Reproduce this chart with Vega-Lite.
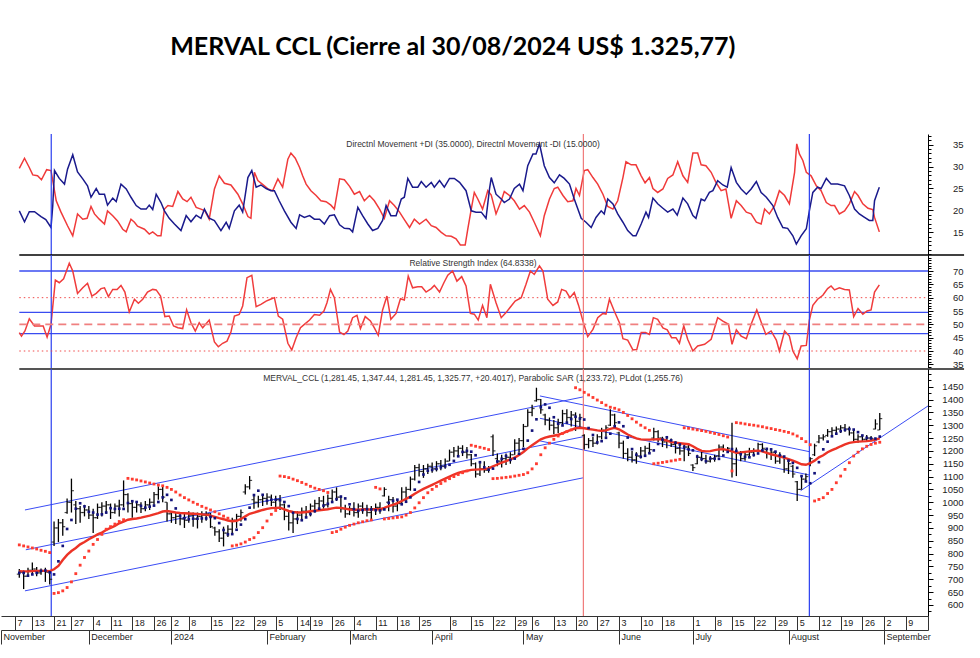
{
"$schema": "https://vega.github.io/schema/vega-lite/v6.json",
"background": "white",
"padding": {"left": 0, "top": 35, "right": 0, "bottom": 0},
"bounds": "flush",
"spacing": 0,
"title": {"text": "MERVAL CCL (Cierre al 30/08/2024 US$ 1.325,77)", "font": "Lato", "fontSize": 25, "fontWeight": "bold", "color": "#000", "anchor": "middle", "dx": -30, "offset": 73, "baseline": "top"},
"config": {"view": {"stroke": null}, "font": "Liberation Sans", "axis": {"grid": false, "domainColor": "#000", "tickColor": "#000", "labelColor": "#222", "labelFont": "Liberation Sans"}},
"datasets": {
"vlines": [{"t": 7.35, "k": "azul"}, {"t": 129.8, "k": "rojo"}, {"t": 181.8, "k": "azul"}],
"levels": [{"v": 70, "k": "b"}, {"v": 54.5, "k": "b"}, {"v": 46.5, "k": "b"}, {"v": 60, "k": "dot"}, {"v": 40, "k": "dot"}, {"v": 50, "k": "dash"}],
"lines": [
{"id": "u1", "t": 1.3, "p": 970}, {"id": "u1", "t": 129.7, "p": 1410},
{"id": "m1", "t": 1.5, "p": 815}, {"id": "m1", "t": 129.7, "p": 1255},
{"id": "l1", "t": 1.3, "p": 655}, {"id": "l1", "t": 129.7, "p": 1095},
{"id": "u2", "t": 119.8, "p": 1414}, {"id": "u2", "t": 181.8, "p": 1197},
{"id": "m2", "t": 119.8, "p": 1327}, {"id": "m2", "t": 181.8, "p": 1106},
{"id": "l2", "t": 119.8, "p": 1239}, {"id": "l2", "t": 181.8, "p": 1020},
{"id": "u3", "t": 179.8, "p": 1045}, {"id": "u3", "t": 209.1, "p": 1375}],
"bars": [
{"t":0,"o":720,"h":740,"l":706,"c":728,"ma":732,"sar":834,"pl":725},
{"t":1,"o":728,"h":735,"l":662,"c":712,"ma":731,"sar":830,"pl":725},
{"t":2,"o":712,"h":745,"l":710,"c":735,"ma":731,"sar":826,"pl":714},
{"t":3,"o":735,"h":765,"l":720,"c":740,"ma":732,"sar":822,"pl":719},
{"t":4,"o":740,"h":748,"l":712,"c":725,"ma":733,"sar":818,"pl":725},
{"t":5,"o":725,"h":742,"l":718,"c":732,"ma":733,"sar":813,"pl":733},
{"t":6,"o":732,"h":745,"l":690,"c":728,"ma":733,"sar":809,"pl":734},
{"t":7,"o":728,"h":735,"l":680,"c":700,"ma":732,"sar":804,"pl":727},
{"t":8,"o":845,"h":925,"l":830,"c":900,"ma":739,"sar":645,"pl":719},
{"t":9,"o":900,"h":935,"l":845,"c":920,"ma":752,"sar":648,"pl":770},
{"t":10,"o":920,"h":935,"l":870,"c":905,"ma":775,"sar":655,"pl":830},
{"t":11,"o":960,"h":1015,"l":955,"c":1000,"ma":795,"sar":668,"pl":896},
{"t":12,"o":1000,"h":1092,"l":960,"c":1045,"ma":810,"sar":690,"pl":931},
{"t":13,"o":990,"h":1005,"l":915,"c":975,"ma":822,"sar":722,"pl":975},
{"t":14,"o":975,"h":985,"l":920,"c":960,"ma":836,"sar":755,"pl":996},
{"t":15,"o":960,"h":990,"l":945,"c":970,"ma":845,"sar":785,"pl":984},
{"t":16,"o":970,"h":985,"l":935,"c":950,"ma":856,"sar":810,"pl":963},
{"t":17,"o":950,"h":975,"l":880,"c":940,"ma":865,"sar":836,"pl":960},
{"t":18,"o":940,"h":995,"l":935,"c":980,"ma":875,"sar":855,"pl":952},
{"t":19,"o":980,"h":1000,"l":945,"c":985,"ma":882,"sar":875,"pl":953},
{"t":20,"o":985,"h":1005,"l":955,"c":990,"ma":892,"sar":895,"pl":960},
{"t":21,"o":990,"h":995,"l":935,"c":960,"ma":900,"sar":905,"pl":977},
{"t":22,"o":960,"h":995,"l":955,"c":985,"ma":908,"sar":915,"pl":974},
{"t":23,"o":985,"h":1010,"l":945,"c":990,"ma":918,"sar":925,"pl":975},
{"t":24,"o":990,"h":1085,"l":980,"c":1030,"ma":925,"sar":932,"pl":974},
{"t":25,"o":1030,"h":1035,"l":960,"c":995,"ma":932,"sar":1093,"pl":997},
{"t":26,"o":995,"h":1005,"l":940,"c":980,"ma":935,"sar":1090,"pl":1004},
{"t":27,"o":980,"h":1005,"l":960,"c":990,"ma":937,"sar":1087,"pl":1001},
{"t":28,"o":990,"h":1000,"l":958,"c":975,"ma":940,"sar":1083,"pl":986},
{"t":29,"o":975,"h":1005,"l":965,"c":990,"ma":944,"sar":1079,"pl":979},
{"t":30,"o":990,"h":1015,"l":970,"c":1000,"ma":948,"sar":1075,"pl":983},
{"t":31,"o":1000,"h":1040,"l":990,"c":1030,"ma":953,"sar":1071,"pl":987},
{"t":32,"o":1030,"h":1062,"l":1010,"c":1050,"ma":958,"sar":1067,"pl":1001},
{"t":33,"o":1050,"h":1060,"l":1000,"c":1020,"ma":964,"sar":1064,"pl":1019},
{"t":34,"o":1000,"h":1000,"l":925,"c":955,"ma":966,"sar":1058,"pl":1029},
{"t":35,"o":955,"h":965,"l":920,"c":940,"ma":963,"sar":1050,"pl":1009},
{"t":36,"o":940,"h":960,"l":915,"c":945,"ma":960,"sar":1040,"pl":976},
{"t":37,"o":945,"h":955,"l":910,"c":935,"ma":958,"sar":1028,"pl":947},
{"t":38,"o":935,"h":960,"l":900,"c":930,"ma":957,"sar":1018,"pl":938},
{"t":39,"o":930,"h":965,"l":920,"c":950,"ma":956,"sar":1009,"pl":934},
{"t":40,"o":950,"h":960,"l":905,"c":935,"ma":955,"sar":1000,"pl":936},
{"t":41,"o":935,"h":960,"l":898,"c":945,"ma":954,"sar":992,"pl":936},
{"t":42,"o":945,"h":965,"l":920,"c":950,"ma":953,"sar":984,"pl":937},
{"t":43,"o":950,"h":965,"l":928,"c":955,"ma":952,"sar":977,"pl":937},
{"t":44,"o":955,"h":958,"l":900,"c":905,"ma":948,"sar":970,"pl":943},
{"t":45,"o":900,"h":905,"l":870,"c":885,"ma":943,"sar":963,"pl":938},
{"t":46,"o":885,"h":895,"l":845,"c":860,"ma":938,"sar":955,"pl":919},
{"t":47,"o":860,"h":905,"l":828,"c":880,"ma":934,"sar":946,"pl":892},
{"t":48,"o":880,"h":910,"l":865,"c":895,"ma":929,"sar":938,"pl":875},
{"t":49,"o":895,"h":940,"l":880,"c":930,"ma":926,"sar":830,"pl":876},
{"t":50,"o":930,"h":955,"l":900,"c":945,"ma":928,"sar":833,"pl":893},
{"t":51,"o":945,"h":972,"l":925,"c":960,"ma":935,"sar":838,"pl":913},
{"t":52,"o":1040,"h":1070,"l":1030,"c":1060,"ma":945,"sar":845,"pl":934},
{"t":53,"o":1060,"h":1102,"l":1050,"c":1085,"ma":955,"sar":855,"pl":979},
{"t":54,"o":1010,"h":1030,"l":975,"c":1000,"ma":960,"sar":862,"pl":1028},
{"t":55,"o":1000,"h":1025,"l":980,"c":1010,"ma":965,"sar":882,"pl":1045},
{"t":56,"o":1010,"h":1030,"l":985,"c":1015,"ma":970,"sar":901,"pl":1029},
{"t":57,"o":1015,"h":1035,"l":990,"c":1020,"ma":974,"sar":927,"pl":1006},
{"t":58,"o":1020,"h":1030,"l":985,"c":1000,"ma":977,"sar":953,"pl":1010},
{"t":59,"o":1000,"h":1025,"l":975,"c":1010,"ma":978,"sar":968,"pl":1010},
{"t":60,"o":1010,"h":1028,"l":970,"c":990,"ma":979,"sar":1102,"pl":1008},
{"t":61,"o":990,"h":995,"l":930,"c":945,"ma":972,"sar":1100,"pl":1001},
{"t":62,"o":945,"h":965,"l":890,"c":920,"ma":966,"sar":1096,"pl":985},
{"t":63,"o":920,"h":955,"l":880,"c":935,"ma":962,"sar":1090,"pl":959},
{"t":64,"o":935,"h":965,"l":915,"c":950,"ma":960,"sar":1084,"pl":935},
{"t":65,"o":950,"h":980,"l":930,"c":965,"ma":960,"sar":1077,"pl":930},
{"t":66,"o":965,"h":985,"l":940,"c":960,"ma":962,"sar":1070,"pl":941},
{"t":67,"o":960,"h":995,"l":945,"c":985,"ma":965,"sar":1062,"pl":954},
{"t":68,"o":985,"h":1010,"l":960,"c":995,"ma":967,"sar":1055,"pl":965},
{"t":69,"o":995,"h":1020,"l":970,"c":1005,"ma":969,"sar":1050,"pl":975},
{"t":70,"o":1005,"h":1025,"l":975,"c":990,"ma":971,"sar":1045,"pl":987},
{"t":71,"o":990,"h":1030,"l":980,"c":1015,"ma":973,"sar":1038,"pl":994},
{"t":72,"o":1015,"h":1050,"l":1000,"c":1040,"ma":976,"sar":882,"pl":1001},
{"t":73,"o":1040,"h":1058,"l":1005,"c":1020,"ma":979,"sar":886,"pl":1012},
{"t":74,"o":1020,"h":1025,"l":960,"c":975,"ma":978,"sar":895,"pl":1022},
{"t":75,"o":975,"h":990,"l":940,"c":955,"ma":975,"sar":903,"pl":1015},
{"t":76,"o":955,"h":985,"l":950,"c":975,"ma":972,"sar":910,"pl":992},
{"t":77,"o":975,"h":1000,"l":945,"c":960,"ma":971,"sar":915,"pl":973},
{"t":78,"o":960,"h":995,"l":940,"c":985,"ma":971,"sar":920,"pl":967},
{"t":79,"o":985,"h":1000,"l":955,"c":975,"ma":972,"sar":924,"pl":970},
{"t":80,"o":975,"h":990,"l":945,"c":960,"ma":972,"sar":928,"pl":973},
{"t":81,"o":960,"h":985,"l":935,"c":975,"ma":972,"sar":931,"pl":972},
{"t":82,"o":975,"h":995,"l":950,"c":980,"ma":973,"sar":1058,"pl":969},
{"t":83,"o":980,"h":1000,"l":955,"c":970,"ma":973,"sar":1052,"pl":968},
{"t":84,"o":1025,"h":1058,"l":1022,"c":1050,"ma":978,"sar":935,"pl":972},
{"t":85,"o":1000,"h":1025,"l":965,"c":1010,"ma":985,"sar":937,"pl":998},
{"t":86,"o":1010,"h":1020,"l":960,"c":985,"ma":990,"sar":939,"pl":1006},
{"t":87,"o":985,"h":1005,"l":965,"c":995,"ma":997,"sar":941,"pl":1010},
{"t":88,"o":995,"h":1058,"l":995,"c":1040,"ma":1005,"sar":943,"pl":992},
{"t":89,"o":1040,"h":1060,"l":1005,"c":1050,"ma":1013,"sar":950,"pl":1002},
{"t":90,"o":1050,"h":1100,"l":1045,"c":1090,"ma":1022,"sar":960,"pl":1019},
{"t":91,"o":1090,"h":1145,"l":1085,"c":1135,"ma":1033,"sar":978,"pl":1049},
{"t":92,"o":1135,"h":1150,"l":1100,"c":1120,"ma":1043,"sar":998,"pl":1079},
{"t":93,"o":1120,"h":1145,"l":1095,"c":1130,"ma":1052,"sar":1018,"pl":1108},
{"t":94,"o":1130,"h":1150,"l":1110,"c":1140,"ma":1060,"sar":1037,"pl":1123},
{"t":95,"o":1140,"h":1155,"l":1115,"c":1130,"ma":1068,"sar":1050,"pl":1126},
{"t":96,"o":1130,"h":1160,"l":1120,"c":1150,"ma":1076,"sar":1062,"pl":1130},
{"t":97,"o":1150,"h":1165,"l":1125,"c":1140,"ma":1084,"sar":1073,"pl":1136},
{"t":98,"o":1140,"h":1170,"l":1130,"c":1160,"ma":1092,"sar":1083,"pl":1140},
{"t":99,"o":1160,"h":1205,"l":1160,"c":1195,"ma":1100,"sar":1092,"pl":1146},
{"t":100,"o":1195,"h":1215,"l":1175,"c":1200,"ma":1108,"sar":1100,"pl":1161},
{"t":101,"o":1200,"h":1220,"l":1180,"c":1210,"ma":1114,"sar":1108,"pl":1179},
{"t":102,"o":1210,"h":1222,"l":1180,"c":1195,"ma":1119,"sar":1115,"pl":1196},
{"t":103,"o":1195,"h":1215,"l":1170,"c":1185,"ma":1122,"sar":1122,"pl":1200},
{"t":104,"o":1185,"h":1188,"l":1140,"c":1150,"ma":1126,"sar":1222,"pl":1197},
{"t":105,"o":1150,"h":1155,"l":1096,"c":1110,"ma":1127,"sar":1218,"pl":1183},
{"t":106,"o":1110,"h":1155,"l":1102,"c":1130,"ma":1128,"sar":1214,"pl":1156},
{"t":107,"o":1130,"h":1160,"l":1115,"c":1125,"ma":1129,"sar":1210,"pl":1136},
{"t":108,"o":1125,"h":1141,"l":1115,"c":1135,"ma":1132,"sar":1205,"pl":1127},
{"t":109,"o":1255,"h":1264,"l":1180,"c":1200,"ma":1140,"sar":1092,"pl":1131},
{"t":110,"o":1170,"h":1190,"l":1140,"c":1160,"ma":1147,"sar":1093,"pl":1159},
{"t":111,"o":1160,"h":1185,"l":1135,"c":1170,"ma":1154,"sar":1095,"pl":1169},
{"t":112,"o":1170,"h":1190,"l":1145,"c":1175,"ma":1160,"sar":1097,"pl":1180},
{"t":113,"o":1175,"h":1195,"l":1150,"c":1185,"ma":1167,"sar":1099,"pl":1165},
{"t":114,"o":1185,"h":1245,"l":1185,"c":1230,"ma":1174,"sar":1102,"pl":1170},
{"t":115,"o":1230,"h":1250,"l":1195,"c":1240,"ma":1184,"sar":1105,"pl":1189},
{"t":116,"o":1240,"h":1305,"l":1215,"c":1295,"ma":1196,"sar":1108,"pl":1208},
{"t":117,"o":1295,"h":1362,"l":1295,"c":1350,"ma":1210,"sar":1115,"pl":1240},
{"t":118,"o":1350,"h":1380,"l":1335,"c":1365,"ma":1222,"sar":1130,"pl":1279},
{"t":119,"o":1395,"h":1446,"l":1392,"c":1400,"ma":1234,"sar":1150,"pl":1323},
{"t":120,"o":1400,"h":1402,"l":1345,"c":1360,"ma":1245,"sar":1185,"pl":1370},
{"t":121,"o":1340,"h":1345,"l":1300,"c":1320,"ma":1252,"sar":1212,"pl":1381},
{"t":122,"o":1320,"h":1330,"l":1280,"c":1300,"ma":1256,"sar":1230,"pl":1368},
{"t":123,"o":1300,"h":1320,"l":1265,"c":1290,"ma":1259,"sar":1245,"pl":1331},
{"t":124,"o":1290,"h":1325,"l":1270,"c":1310,"ma":1263,"sar":1258,"pl":1306},
{"t":125,"o":1310,"h":1360,"l":1300,"c":1345,"ma":1268,"sar":1268,"pl":1299},
{"t":126,"o":1345,"h":1362,"l":1310,"c":1330,"ma":1276,"sar":1275,"pl":1310},
{"t":127,"o":1330,"h":1355,"l":1295,"c":1340,"ma":1282,"sar":1282,"pl":1324},
{"t":128,"o":1340,"h":1350,"l":1278,"c":1315,"ma":1288,"sar":1446,"pl":1333},
{"t":129,"o":1315,"h":1345,"l":1290,"c":1330,"ma":1290,"sar":1438,"pl":1326},
{"t":130,"o":1260,"h":1265,"l":1205,"c":1225,"ma":1288,"sar":1428,"pl":1322},
{"t":131,"o":1225,"h":1250,"l":1210,"c":1240,"ma":1285,"sar":1418,"pl":1289},
{"t":132,"o":1240,"h":1255,"l":1215,"c":1230,"ma":1283,"sar":1408,"pl":1262},
{"t":133,"o":1230,"h":1265,"l":1225,"c":1255,"ma":1280,"sar":1398,"pl":1233},
{"t":134,"o":1255,"h":1290,"l":1245,"c":1280,"ma":1278,"sar":1388,"pl":1238},
{"t":135,"o":1280,"h":1300,"l":1255,"c":1290,"ma":1280,"sar":1378,"pl":1251},
{"t":136,"o":1300,"h":1362,"l":1297,"c":1340,"ma":1286,"sar":1370,"pl":1267},
{"t":137,"o":1340,"h":1345,"l":1295,"c":1310,"ma":1290,"sar":1366,"pl":1296},
{"t":138,"o":1270,"h":1275,"l":1210,"c":1230,"ma":1284,"sar":1360,"pl":1311},
{"t":139,"o":1230,"h":1240,"l":1170,"c":1190,"ma":1274,"sar":1350,"pl":1296},
{"t":140,"o":1190,"h":1210,"l":1160,"c":1175,"ma":1264,"sar":1338,"pl":1252},
{"t":141,"o":1175,"h":1200,"l":1155,"c":1165,"ma":1256,"sar":1325,"pl":1207},
{"t":142,"o":1165,"h":1195,"l":1150,"c":1180,"ma":1249,"sar":1312,"pl":1185},
{"t":143,"o":1180,"h":1215,"l":1170,"c":1200,"ma":1245,"sar":1300,"pl":1177},
{"t":144,"o":1200,"h":1220,"l":1180,"c":1210,"ma":1244,"sar":1290,"pl":1181},
{"t":145,"o":1210,"h":1232,"l":1190,"c":1205,"ma":1244,"sar":1280,"pl":1191},
{"t":146,"o":1250,"h":1290,"l":1240,"c":1275,"ma":1245,"sar":1150,"pl":1202},
{"t":147,"o":1275,"h":1280,"l":1235,"c":1250,"ma":1246,"sar":1152,"pl":1227},
{"t":148,"o":1250,"h":1255,"l":1215,"c":1235,"ma":1245,"sar":1155,"pl":1244},
{"t":149,"o":1235,"h":1250,"l":1210,"c":1240,"ma":1240,"sar":1158,"pl":1253},
{"t":150,"o":1240,"h":1248,"l":1215,"c":1225,"ma":1234,"sar":1161,"pl":1241},
{"t":151,"o":1225,"h":1238,"l":1190,"c":1210,"ma":1232,"sar":1164,"pl":1232},
{"t":152,"o":1210,"h":1230,"l":1185,"c":1200,"ma":1230,"sar":1167,"pl":1225},
{"t":153,"o":1200,"h":1225,"l":1160,"c":1215,"ma":1228,"sar":1290,"pl":1216},
{"t":154,"o":1215,"h":1230,"l":1180,"c":1190,"ma":1226,"sar":1288,"pl":1206},
{"t":155,"o":1145,"h":1148,"l":1122,"c":1135,"ma":1218,"sar":1285,"pl":1202},
{"t":156,"o":1150,"h":1185,"l":1148,"c":1175,"ma":1208,"sar":1282,"pl":1178},
{"t":157,"o":1175,"h":1200,"l":1160,"c":1170,"ma":1200,"sar":1279,"pl":1168},
{"t":158,"o":1170,"h":1185,"l":1150,"c":1160,"ma":1198,"sar":1276,"pl":1160},
{"t":159,"o":1160,"h":1180,"l":1155,"c":1170,"ma":1199,"sar":1272,"pl":1170},
{"t":160,"o":1170,"h":1185,"l":1158,"c":1178,"ma":1203,"sar":1268,"pl":1170},
{"t":161,"o":1180,"h":1225,"l":1175,"c":1215,"ma":1206,"sar":1264,"pl":1169},
{"t":162,"o":1215,"h":1225,"l":1195,"c":1205,"ma":1207,"sar":1259,"pl":1182},
{"t":163,"o":1205,"h":1215,"l":1195,"c":1210,"ma":1203,"sar":1254,"pl":1196},
{"t":164,"o":1200,"h":1310,"l":1096,"c":1150,"ma":1198,"sar":1122,"pl":1207},
{"t":165,"o":1150,"h":1213,"l":1102,"c":1190,"ma":1193,"sar":1310,"pl":1200},
{"t":166,"o":1190,"h":1200,"l":1160,"c":1170,"ma":1194,"sar":1308,"pl":1187},
{"t":167,"o":1170,"h":1195,"l":1162,"c":1185,"ma":1196,"sar":1305,"pl":1177},
{"t":168,"o":1185,"h":1212,"l":1175,"c":1195,"ma":1198,"sar":1302,"pl":1175},
{"t":169,"o":1195,"h":1210,"l":1178,"c":1200,"ma":1200,"sar":1300,"pl":1184},
{"t":170,"o":1200,"h":1232,"l":1195,"c":1225,"ma":1201,"sar":1297,"pl":1190},
{"t":171,"o":1225,"h":1230,"l":1195,"c":1210,"ma":1198,"sar":1294,"pl":1202},
{"t":172,"o":1205,"h":1210,"l":1170,"c":1190,"ma":1192,"sar":1290,"pl":1208},
{"t":173,"o":1190,"h":1205,"l":1165,"c":1195,"ma":1187,"sar":1287,"pl":1206},
{"t":174,"o":1195,"h":1200,"l":1150,"c":1160,"ma":1183,"sar":1283,"pl":1197},
{"t":175,"o":1160,"h":1195,"l":1150,"c":1180,"ma":1178,"sar":1280,"pl":1183},
{"t":176,"o":1175,"h":1180,"l":1115,"c":1130,"ma":1174,"sar":1276,"pl":1178},
{"t":177,"o":1130,"h":1170,"l":1110,"c":1150,"ma":1168,"sar":1272,"pl":1162},
{"t":178,"o":1140,"h":1145,"l":1095,"c":1110,"ma":1162,"sar":1266,"pl":1153},
{"t":179,"o":1080,"h":1083,"l":1005,"c":1050,"ma":1155,"sar":1258,"pl":1134},
{"t":180,"o":1050,"h":1100,"l":1050,"c":1090,"ma":1148,"sar":1248,"pl":1102},
{"t":181,"o":1090,"h":1112,"l":1080,"c":1100,"ma":1146,"sar":1236,"pl":1081},
{"t":182,"o":1150,"h":1175,"l":1140,"c":1170,"ma":1152,"sar":1224,"pl":1074},
{"t":183,"o":1185,"h":1228,"l":1180,"c":1220,"ma":1162,"sar":1005,"pl":1113},
{"t":184,"o":1235,"h":1262,"l":1230,"c":1250,"ma":1175,"sar":1011,"pl":1156},
{"t":185,"o":1250,"h":1265,"l":1240,"c":1255,"ma":1183,"sar":1018,"pl":1206},
{"t":186,"o":1260,"h":1285,"l":1255,"c":1275,"ma":1195,"sar":1034,"pl":1236},
{"t":187,"o":1275,"h":1292,"l":1260,"c":1280,"ma":1203,"sar":1050,"pl":1257},
{"t":188,"o":1280,"h":1295,"l":1262,"c":1285,"ma":1210,"sar":1076,"pl":1267},
{"t":189,"o":1285,"h":1300,"l":1270,"c":1290,"ma":1218,"sar":1102,"pl":1277},
{"t":190,"o":1290,"h":1305,"l":1275,"c":1285,"ma":1225,"sar":1128,"pl":1282},
{"t":191,"o":1285,"h":1295,"l":1260,"c":1270,"ma":1231,"sar":1154,"pl":1285},
{"t":192,"o":1270,"h":1285,"l":1235,"c":1245,"ma":1234,"sar":1180,"pl":1283},
{"t":193,"o":1245,"h":1265,"l":1232,"c":1255,"ma":1236,"sar":1195,"pl":1273},
{"t":194,"o":1255,"h":1262,"l":1235,"c":1245,"ma":1237,"sar":1208,"pl":1260},
{"t":195,"o":1245,"h":1262,"l":1238,"c":1250,"ma":1238,"sar":1218,"pl":1251},
{"t":196,"o":1250,"h":1258,"l":1238,"c":1248,"ma":1240,"sar":1225,"pl":1249},
{"t":197,"o":1285,"h":1323,"l":1284,"c":1305,"ma":1244,"sar":1230,"pl":1248},
{"t":198,"o":1281.45,"h":1347.44,"l":1281.45,"c":1325.77,"ma":1249,"sar":1233.72,"pl":1255.76}],
"dmi": [
{"t":0.0,"v":29.6,"s":"-DI"},{"t":1.2,"v":31.9,"s":"-DI"},{"t":2.3,"v":29.8,"s":"-DI"},{"t":3.1,"v":28.1,"s":"-DI"},{"t":4.2,"v":27.9,"s":"-DI"},{"t":5.1,"v":27.0,"s":"-DI"},{"t":6.3,"v":29.3,"s":"-DI"},{"t":7.3,"v":29.1,"s":"-DI"},{"t":8.5,"v":22.2,"s":"-DI"},{"t":9.6,"v":19.6,"s":"-DI"},{"t":11.1,"v":16.5,"s":"-DI"},{"t":12.3,"v":14.2,"s":"-DI"},{"t":13.4,"v":19.2,"s":"-DI"},{"t":14.6,"v":18.0,"s":"-DI"},{"t":15.6,"v":18.2,"s":"-DI"},{"t":16.5,"v":20.9,"s":"-DI"},{"t":17.3,"v":19.2,"s":"-DI"},{"t":18.4,"v":18.0,"s":"-DI"},{"t":19.6,"v":16.9,"s":"-DI"},{"t":20.3,"v":19.9,"s":"-DI"},{"t":21.5,"v":18.8,"s":"-DI"},{"t":22.6,"v":17.6,"s":"-DI"},{"t":23.8,"v":15.7,"s":"-DI"},{"t":24.6,"v":15.1,"s":"-DI"},{"t":25.7,"v":18.0,"s":"-DI"},{"t":26.5,"v":17.3,"s":"-DI"},{"t":27.2,"v":16.4,"s":"-DI"},{"t":28.8,"v":15.7,"s":"-DI"},{"t":29.9,"v":14.6,"s":"-DI"},{"t":30.7,"v":15.1,"s":"-DI"},{"t":31.8,"v":14.2,"s":"-DI"},{"t":32.6,"v":14.2,"s":"-DI"},{"t":33.4,"v":20.3,"s":"-DI"},{"t":34.2,"v":21.1,"s":"-DI"},{"t":35.3,"v":20.9,"s":"-DI"},{"t":36.5,"v":24.3,"s":"-DI"},{"t":37.6,"v":22.6,"s":"-DI"},{"t":38.6,"v":22.0,"s":"-DI"},{"t":39.5,"v":23.0,"s":"-DI"},{"t":40.7,"v":20.7,"s":"-DI"},{"t":41.8,"v":20.3,"s":"-DI"},{"t":42.7,"v":19.9,"s":"-DI"},{"t":43.7,"v":18.0,"s":"-DI"},{"t":44.9,"v":24.9,"s":"-DI"},{"t":46.0,"v":27.9,"s":"-DI"},{"t":47.2,"v":26.2,"s":"-DI"},{"t":48.7,"v":25.8,"s":"-DI"},{"t":50.3,"v":23.7,"s":"-DI"},{"t":51.4,"v":21.5,"s":"-DI"},{"t":52.6,"v":18.6,"s":"-DI"},{"t":53.3,"v":18.2,"s":"-DI"},{"t":54.1,"v":28.7,"s":"-DI"},{"t":54.9,"v":26.8,"s":"-DI"},{"t":56.4,"v":25.6,"s":"-DI"},{"t":57.2,"v":24.9,"s":"-DI"},{"t":58.3,"v":24.5,"s":"-DI"},{"t":59.5,"v":27.2,"s":"-DI"},{"t":60.6,"v":25.3,"s":"-DI"},{"t":61.8,"v":31.7,"s":"-DI"},{"t":62.5,"v":33.1,"s":"-DI"},{"t":63.5,"v":31.9,"s":"-DI"},{"t":64.5,"v":29.8,"s":"-DI"},{"t":65.2,"v":27.9,"s":"-DI"},{"t":66.0,"v":26.0,"s":"-DI"},{"t":67.1,"v":24.5,"s":"-DI"},{"t":68.3,"v":23.4,"s":"-DI"},{"t":69.4,"v":22.2,"s":"-DI"},{"t":70.6,"v":22.0,"s":"-DI"},{"t":71.7,"v":21.2,"s":"-DI"},{"t":72.5,"v":20.3,"s":"-DI"},{"t":73.7,"v":27.2,"s":"-DI"},{"t":74.8,"v":27.0,"s":"-DI"},{"t":76.0,"v":25.5,"s":"-DI"},{"t":77.1,"v":23.7,"s":"-DI"},{"t":78.3,"v":24.3,"s":"-DI"},{"t":79.4,"v":22.2,"s":"-DI"},{"t":80.6,"v":23.4,"s":"-DI"},{"t":81.7,"v":22.2,"s":"-DI"},{"t":82.9,"v":20.3,"s":"-DI"},{"t":84.0,"v":18.2,"s":"-DI"},{"t":85.2,"v":22.2,"s":"-DI"},{"t":86.3,"v":21.1,"s":"-DI"},{"t":87.5,"v":19.6,"s":"-DI"},{"t":88.6,"v":17.9,"s":"-DI"},{"t":89.8,"v":16.1,"s":"-DI"},{"t":90.9,"v":18.0,"s":"-DI"},{"t":92.1,"v":16.9,"s":"-DI"},{"t":93.6,"v":18.0,"s":"-DI"},{"t":94.8,"v":16.5,"s":"-DI"},{"t":95.9,"v":16.1,"s":"-DI"},{"t":97.1,"v":15.0,"s":"-DI"},{"t":98.2,"v":14.2,"s":"-DI"},{"t":99.4,"v":14.1,"s":"-DI"},{"t":100.5,"v":13.5,"s":"-DI"},{"t":101.5,"v":12.1,"s":"-DI"},{"t":102.6,"v":12.1,"s":"-DI"},{"t":103.2,"v":15.7,"s":"-DI"},{"t":104.0,"v":20.3,"s":"-DI"},{"t":104.7,"v":24.1,"s":"-DI"},{"t":105.5,"v":22.6,"s":"-DI"},{"t":106.6,"v":20.3,"s":"-DI"},{"t":107.8,"v":24.5,"s":"-DI"},{"t":108.6,"v":23.5,"s":"-DI"},{"t":109.7,"v":19.2,"s":"-DI"},{"t":110.9,"v":22.2,"s":"-DI"},{"t":111.6,"v":24.3,"s":"-DI"},{"t":112.8,"v":23.4,"s":"-DI"},{"t":113.9,"v":22.2,"s":"-DI"},{"t":115.1,"v":20.3,"s":"-DI"},{"t":116.2,"v":21.1,"s":"-DI"},{"t":117.4,"v":19.6,"s":"-DI"},{"t":118.5,"v":17.3,"s":"-DI"},{"t":119.9,"v":14.2,"s":"-DI"},{"t":120.8,"v":18.8,"s":"-DI"},{"t":122.0,"v":22.6,"s":"-DI"},{"t":123.1,"v":25.0,"s":"-DI"},{"t":123.9,"v":25.3,"s":"-DI"},{"t":125.1,"v":23.4,"s":"-DI"},{"t":126.2,"v":22.0,"s":"-DI"},{"t":127.4,"v":22.2,"s":"-DI"},{"t":128.1,"v":25.0,"s":"-DI"},{"t":128.9,"v":23.4,"s":"-DI"},{"t":130.0,"v":29.1,"s":"-DI"},{"t":130.8,"v":29.3,"s":"-DI"},{"t":132.0,"v":27.5,"s":"-DI"},{"t":133.1,"v":26.0,"s":"-DI"},{"t":134.3,"v":23.7,"s":"-DI"},{"t":135.4,"v":20.9,"s":"-DI"},{"t":136.6,"v":20.3,"s":"-DI"},{"t":137.7,"v":22.2,"s":"-DI"},{"t":138.9,"v":27.5,"s":"-DI"},{"t":139.6,"v":31.1,"s":"-DI"},{"t":140.8,"v":30.4,"s":"-DI"},{"t":141.9,"v":30.4,"s":"-DI"},{"t":143.1,"v":27.9,"s":"-DI"},{"t":144.0,"v":26.3,"s":"-DI"},{"t":145.0,"v":27.5,"s":"-DI"},{"t":145.8,"v":25.0,"s":"-DI"},{"t":146.9,"v":24.1,"s":"-DI"},{"t":148.1,"v":24.9,"s":"-DI"},{"t":149.2,"v":27.3,"s":"-DI"},{"t":150.4,"v":28.1,"s":"-DI"},{"t":151.5,"v":31.1,"s":"-DI"},{"t":152.7,"v":27.9,"s":"-DI"},{"t":153.8,"v":26.4,"s":"-DI"},{"t":155.0,"v":33.1,"s":"-DI"},{"t":156.1,"v":33.1,"s":"-DI"},{"t":156.9,"v":30.4,"s":"-DI"},{"t":158.0,"v":30.2,"s":"-DI"},{"t":159.2,"v":28.7,"s":"-DI"},{"t":160.3,"v":26.4,"s":"-DI"},{"t":161.5,"v":24.5,"s":"-DI"},{"t":162.6,"v":24.9,"s":"-DI"},{"t":163.8,"v":18.2,"s":"-DI"},{"t":165.0,"v":22.2,"s":"-DI"},{"t":166.1,"v":21.1,"s":"-DI"},{"t":167.3,"v":19.6,"s":"-DI"},{"t":168.4,"v":19.2,"s":"-DI"},{"t":169.6,"v":17.3,"s":"-DI"},{"t":170.7,"v":16.9,"s":"-DI"},{"t":171.5,"v":20.3,"s":"-DI"},{"t":172.6,"v":19.2,"s":"-DI"},{"t":173.8,"v":21.1,"s":"-DI"},{"t":174.9,"v":24.5,"s":"-DI"},{"t":176.1,"v":23.4,"s":"-DI"},{"t":177.2,"v":21.5,"s":"-DI"},{"t":178.4,"v":28.7,"s":"-DI"},{"t":178.9,"v":35.2,"s":"-DI"},{"t":179.5,"v":32.9,"s":"-DI"},{"t":180.3,"v":31.4,"s":"-DI"},{"t":181.1,"v":28.7,"s":"-DI"},{"t":182.2,"v":27.9,"s":"-DI"},{"t":183.4,"v":25.6,"s":"-DI"},{"t":184.5,"v":24.5,"s":"-DI"},{"t":185.7,"v":21.8,"s":"-DI"},{"t":186.8,"v":21.1,"s":"-DI"},{"t":187.6,"v":21.1,"s":"-DI"},{"t":188.7,"v":19.2,"s":"-DI"},{"t":189.9,"v":19.9,"s":"-DI"},{"t":191.0,"v":21.5,"s":"-DI"},{"t":192.2,"v":24.3,"s":"-DI"},{"t":193.0,"v":23.4,"s":"-DI"},{"t":194.1,"v":21.5,"s":"-DI"},{"t":195.3,"v":20.5,"s":"-DI"},{"t":196.4,"v":20.2,"s":"-DI"},{"t":196.8,"v":18.4,"s":"-DI"},{"t":197.9,"v":15.1,"s":"-DI"},
{"t":0.0,"v":19.9,"s":"+DI"},{"t":1.2,"v":17.4,"s":"+DI"},{"t":2.3,"v":19.7,"s":"+DI"},{"t":3.5,"v":19.7,"s":"+DI"},{"t":5.0,"v":18.6,"s":"+DI"},{"t":6.1,"v":17.9,"s":"+DI"},{"t":7.3,"v":16.1,"s":"+DI"},{"t":7.7,"v":21.1,"s":"+DI"},{"t":8.1,"v":29.1,"s":"+DI"},{"t":9.2,"v":27.3,"s":"+DI"},{"t":10.4,"v":26.0,"s":"+DI"},{"t":11.1,"v":29.4,"s":"+DI"},{"t":12.3,"v":32.7,"s":"+DI"},{"t":13.4,"v":28.8,"s":"+DI"},{"t":14.6,"v":27.2,"s":"+DI"},{"t":15.7,"v":25.6,"s":"+DI"},{"t":16.5,"v":23.0,"s":"+DI"},{"t":17.7,"v":25.0,"s":"+DI"},{"t":18.4,"v":23.7,"s":"+DI"},{"t":19.6,"v":23.7,"s":"+DI"},{"t":20.3,"v":21.2,"s":"+DI"},{"t":21.5,"v":22.8,"s":"+DI"},{"t":22.3,"v":22.0,"s":"+DI"},{"t":23.4,"v":26.0,"s":"+DI"},{"t":24.6,"v":24.9,"s":"+DI"},{"t":25.7,"v":23.0,"s":"+DI"},{"t":26.9,"v":21.1,"s":"+DI"},{"t":28.0,"v":20.3,"s":"+DI"},{"t":29.2,"v":20.3,"s":"+DI"},{"t":29.9,"v":21.2,"s":"+DI"},{"t":30.7,"v":20.2,"s":"+DI"},{"t":31.5,"v":23.7,"s":"+DI"},{"t":32.6,"v":21.8,"s":"+DI"},{"t":33.4,"v":19.9,"s":"+DI"},{"t":34.5,"v":18.2,"s":"+DI"},{"t":35.7,"v":16.9,"s":"+DI"},{"t":37.2,"v":15.4,"s":"+DI"},{"t":38.4,"v":18.8,"s":"+DI"},{"t":39.5,"v":17.4,"s":"+DI"},{"t":40.7,"v":18.9,"s":"+DI"},{"t":41.8,"v":18.2,"s":"+DI"},{"t":42.6,"v":20.3,"s":"+DI"},{"t":43.7,"v":18.2,"s":"+DI"},{"t":44.9,"v":17.7,"s":"+DI"},{"t":46.4,"v":15.4,"s":"+DI"},{"t":47.6,"v":17.3,"s":"+DI"},{"t":48.3,"v":15.9,"s":"+DI"},{"t":49.5,"v":19.9,"s":"+DI"},{"t":50.6,"v":21.2,"s":"+DI"},{"t":51.4,"v":19.6,"s":"+DI"},{"t":52.6,"v":27.5,"s":"+DI"},{"t":53.5,"v":29.1,"s":"+DI"},{"t":54.5,"v":25.3,"s":"+DI"},{"t":55.6,"v":25.8,"s":"+DI"},{"t":56.8,"v":25.0,"s":"+DI"},{"t":57.9,"v":24.5,"s":"+DI"},{"t":58.7,"v":24.5,"s":"+DI"},{"t":59.8,"v":22.2,"s":"+DI"},{"t":61.0,"v":19.9,"s":"+DI"},{"t":62.5,"v":17.3,"s":"+DI"},{"t":63.7,"v":15.9,"s":"+DI"},{"t":64.5,"v":19.0,"s":"+DI"},{"t":65.6,"v":18.4,"s":"+DI"},{"t":66.8,"v":18.8,"s":"+DI"},{"t":67.9,"v":18.0,"s":"+DI"},{"t":69.1,"v":18.0,"s":"+DI"},{"t":70.2,"v":16.9,"s":"+DI"},{"t":71.4,"v":18.8,"s":"+DI"},{"t":72.5,"v":19.0,"s":"+DI"},{"t":73.7,"v":16.7,"s":"+DI"},{"t":74.8,"v":15.9,"s":"+DI"},{"t":76.0,"v":15.8,"s":"+DI"},{"t":76.7,"v":15.1,"s":"+DI"},{"t":77.9,"v":20.7,"s":"+DI"},{"t":79.0,"v":18.8,"s":"+DI"},{"t":80.2,"v":16.9,"s":"+DI"},{"t":81.3,"v":15.4,"s":"+DI"},{"t":82.5,"v":15.9,"s":"+DI"},{"t":83.6,"v":17.7,"s":"+DI"},{"t":84.4,"v":21.1,"s":"+DI"},{"t":85.5,"v":18.8,"s":"+DI"},{"t":86.7,"v":18.8,"s":"+DI"},{"t":87.9,"v":22.6,"s":"+DI"},{"t":88.6,"v":23.0,"s":"+DI"},{"t":89.4,"v":27.3,"s":"+DI"},{"t":90.5,"v":25.3,"s":"+DI"},{"t":91.7,"v":25.3,"s":"+DI"},{"t":92.5,"v":26.6,"s":"+DI"},{"t":93.6,"v":25.3,"s":"+DI"},{"t":94.8,"v":26.4,"s":"+DI"},{"t":95.5,"v":25.3,"s":"+DI"},{"t":96.7,"v":26.8,"s":"+DI"},{"t":97.8,"v":25.3,"s":"+DI"},{"t":99.0,"v":27.3,"s":"+DI"},{"t":100.1,"v":27.3,"s":"+DI"},{"t":101.3,"v":26.4,"s":"+DI"},{"t":102.8,"v":24.5,"s":"+DI"},{"t":104.0,"v":19.9,"s":"+DI"},{"t":105.1,"v":19.6,"s":"+DI"},{"t":106.3,"v":19.6,"s":"+DI"},{"t":107.4,"v":18.2,"s":"+DI"},{"t":108.2,"v":24.9,"s":"+DI"},{"t":108.6,"v":27.5,"s":"+DI"},{"t":109.7,"v":23.7,"s":"+DI"},{"t":110.9,"v":22.6,"s":"+DI"},{"t":111.6,"v":21.8,"s":"+DI"},{"t":112.8,"v":22.6,"s":"+DI"},{"t":113.9,"v":25.0,"s":"+DI"},{"t":115.1,"v":26.0,"s":"+DI"},{"t":115.9,"v":24.5,"s":"+DI"},{"t":117.0,"v":30.2,"s":"+DI"},{"t":118.2,"v":32.9,"s":"+DI"},{"t":118.9,"v":32.9,"s":"+DI"},{"t":119.7,"v":35.2,"s":"+DI"},{"t":120.8,"v":30.2,"s":"+DI"},{"t":122.0,"v":27.5,"s":"+DI"},{"t":123.1,"v":26.3,"s":"+DI"},{"t":124.3,"v":28.1,"s":"+DI"},{"t":125.4,"v":27.3,"s":"+DI"},{"t":126.6,"v":26.0,"s":"+DI"},{"t":127.7,"v":22.6,"s":"+DI"},{"t":129.3,"v":18.2,"s":"+DI"},{"t":130.4,"v":17.3,"s":"+DI"},{"t":131.6,"v":16.1,"s":"+DI"},{"t":132.7,"v":18.4,"s":"+DI"},{"t":133.9,"v":19.9,"s":"+DI"},{"t":134.6,"v":19.2,"s":"+DI"},{"t":135.4,"v":22.6,"s":"+DI"},{"t":136.6,"v":21.5,"s":"+DI"},{"t":137.7,"v":19.2,"s":"+DI"},{"t":138.9,"v":17.3,"s":"+DI"},{"t":140.0,"v":15.4,"s":"+DI"},{"t":141.2,"v":14.2,"s":"+DI"},{"t":141.9,"v":14.2,"s":"+DI"},{"t":143.1,"v":16.9,"s":"+DI"},{"t":144.2,"v":19.6,"s":"+DI"},{"t":144.8,"v":18.4,"s":"+DI"},{"t":145.8,"v":22.8,"s":"+DI"},{"t":146.9,"v":21.5,"s":"+DI"},{"t":148.1,"v":20.5,"s":"+DI"},{"t":149.2,"v":19.6,"s":"+DI"},{"t":150.4,"v":20.3,"s":"+DI"},{"t":151.4,"v":18.9,"s":"+DI"},{"t":152.7,"v":22.8,"s":"+DI"},{"t":153.8,"v":21.5,"s":"+DI"},{"t":155.0,"v":18.8,"s":"+DI"},{"t":155.7,"v":18.2,"s":"+DI"},{"t":156.9,"v":22.6,"s":"+DI"},{"t":157.7,"v":22.2,"s":"+DI"},{"t":158.8,"v":24.1,"s":"+DI"},{"t":159.6,"v":24.5,"s":"+DI"},{"t":160.7,"v":26.8,"s":"+DI"},{"t":161.9,"v":25.8,"s":"+DI"},{"t":162.9,"v":25.3,"s":"+DI"},{"t":163.8,"v":29.8,"s":"+DI"},{"t":165.0,"v":26.4,"s":"+DI"},{"t":166.1,"v":24.9,"s":"+DI"},{"t":167.3,"v":23.7,"s":"+DI"},{"t":168.4,"v":24.9,"s":"+DI"},{"t":169.6,"v":26.6,"s":"+DI"},{"t":170.7,"v":24.1,"s":"+DI"},{"t":171.9,"v":23.0,"s":"+DI"},{"t":173.4,"v":21.1,"s":"+DI"},{"t":174.5,"v":18.4,"s":"+DI"},{"t":175.7,"v":16.1,"s":"+DI"},{"t":176.8,"v":15.9,"s":"+DI"},{"t":178.0,"v":14.2,"s":"+DI"},{"t":178.8,"v":12.3,"s":"+DI"},{"t":179.9,"v":14.2,"s":"+DI"},{"t":181.1,"v":15.8,"s":"+DI"},{"t":181.8,"v":19.9,"s":"+DI"},{"t":182.6,"v":24.1,"s":"+DI"},{"t":183.7,"v":25.3,"s":"+DI"},{"t":184.5,"v":25.0,"s":"+DI"},{"t":185.7,"v":27.3,"s":"+DI"},{"t":186.8,"v":26.0,"s":"+DI"},{"t":188.3,"v":26.0,"s":"+DI"},{"t":189.9,"v":25.6,"s":"+DI"},{"t":191.0,"v":23.4,"s":"+DI"},{"t":192.2,"v":20.3,"s":"+DI"},{"t":193.3,"v":19.2,"s":"+DI"},{"t":194.5,"v":18.4,"s":"+DI"},{"t":195.6,"v":17.7,"s":"+DI"},{"t":196.4,"v":17.7,"s":"+DI"},{"t":196.8,"v":22.2,"s":"+DI"},{"t":197.6,"v":24.5,"s":"+DI"},{"t":197.9,"v":25.3,"s":"+DI"}],
"rsi": [
{"t":0.0,"v":46.9},{"t":0.5,"v":45.6},{"t":1.3,"v":47.5},{"t":2.3,"v":52.1},{"t":3.5,"v":49.4},{"t":4.6,"v":49.4},{"t":5.5,"v":49.4},{"t":6.4,"v":45.2},{"t":7.3,"v":50.0},{"t":8.3,"v":66.6},{"t":9.2,"v":65.6},{"t":10.2,"v":67.1},{"t":11.5,"v":72.9},{"t":12.3,"v":70.0},{"t":13.4,"v":61.6},{"t":14.6,"v":63.7},{"t":15.7,"v":65.4},{"t":16.7,"v":60.6},{"t":17.7,"v":61.6},{"t":18.8,"v":63.4},{"t":19.6,"v":63.7},{"t":20.5,"v":60.4},{"t":21.5,"v":63.1},{"t":22.5,"v":63.1},{"t":23.4,"v":64.6},{"t":24.3,"v":62.1},{"t":25.3,"v":54.6},{"t":26.5,"v":59.4},{"t":27.4,"v":57.9},{"t":28.4,"v":59.4},{"t":29.5,"v":62.1},{"t":30.7,"v":63.1},{"t":31.5,"v":62.9},{"t":32.5,"v":60.6},{"t":33.5,"v":52.9},{"t":34.5,"v":53.1},{"t":35.5,"v":49.4},{"t":36.5,"v":48.7},{"t":37.6,"v":48.4},{"t":38.5,"v":55.4},{"t":39.5,"v":50.6},{"t":40.5,"v":47.5},{"t":41.4,"v":50.6},{"t":42.2,"v":48.7},{"t":43.7,"v":51.6},{"t":44.9,"v":43.4},{"t":45.8,"v":41.6},{"t":46.8,"v":42.9},{"t":47.8,"v":43.7},{"t":48.7,"v":47.1},{"t":49.5,"v":53.1},{"t":50.6,"v":53.7},{"t":51.4,"v":56.9},{"t":52.4,"v":67.5},{"t":53.5,"v":68.4},{"t":54.5,"v":56.6},{"t":55.6,"v":57.5},{"t":56.8,"v":58.7},{"t":57.8,"v":59.4},{"t":58.7,"v":60.0},{"t":59.6,"v":53.1},{"t":60.6,"v":51.9},{"t":61.8,"v":42.9},{"t":62.7,"v":40.4},{"t":63.7,"v":45.0},{"t":64.7,"v":48.7},{"t":65.6,"v":50.0},{"t":66.8,"v":51.6},{"t":67.9,"v":53.7},{"t":69.1,"v":53.4},{"t":70.1,"v":55.0},{"t":70.8,"v":58.1},{"t":71.6,"v":63.1},{"t":72.5,"v":60.0},{"t":73.7,"v":47.1},{"t":74.7,"v":46.2},{"t":75.6,"v":47.5},{"t":76.7,"v":52.5},{"t":77.7,"v":53.4},{"t":78.5,"v":48.4},{"t":79.6,"v":52.9},{"t":80.8,"v":51.3},{"t":81.7,"v":48.7},{"t":82.6,"v":45.9},{"t":83.6,"v":55.4},{"t":84.6,"v":60.6},{"t":85.5,"v":51.9},{"t":86.7,"v":54.1},{"t":87.7,"v":59.6},{"t":88.6,"v":59.1},{"t":89.5,"v":68.1},{"t":90.5,"v":63.7},{"t":91.7,"v":64.1},{"t":92.6,"v":64.1},{"t":93.6,"v":62.1},{"t":94.8,"v":63.4},{"t":95.5,"v":64.6},{"t":96.7,"v":62.1},{"t":97.7,"v":65.6},{"t":98.6,"v":68.4},{"t":99.7,"v":70.0},{"t":100.7,"v":66.2},{"t":101.8,"v":67.9},{"t":102.8,"v":64.4},{"t":103.8,"v":54.1},{"t":104.7,"v":53.8},{"t":105.6,"v":51.6},{"t":106.6,"v":57.1},{"t":107.6,"v":52.5},{"t":108.4,"v":65.0},{"t":109.7,"v":58.1},{"t":110.9,"v":52.5},{"t":112.0,"v":54.4},{"t":113.2,"v":56.9},{"t":114.1,"v":58.7},{"t":115.5,"v":60.0},{"t":116.6,"v":65.0},{"t":117.6,"v":70.0},{"t":118.5,"v":68.7},{"t":119.7,"v":71.9},{"t":120.5,"v":70.0},{"t":121.6,"v":59.4},{"t":122.8,"v":57.1},{"t":123.9,"v":58.4},{"t":124.8,"v":63.1},{"t":125.8,"v":62.5},{"t":126.7,"v":60.0},{"t":127.7,"v":61.9},{"t":128.7,"v":57.1},{"t":129.7,"v":51.2},{"t":130.8,"v":45.4},{"t":132.0,"v":48.1},{"t":133.1,"v":52.5},{"t":134.3,"v":54.1},{"t":135.0,"v":53.8},{"t":135.8,"v":59.4},{"t":136.9,"v":55.0},{"t":138.1,"v":50.6},{"t":138.9,"v":44.6},{"t":140.0,"v":44.1},{"t":141.2,"v":40.4},{"t":142.1,"v":40.6},{"t":143.1,"v":46.9},{"t":144.1,"v":46.9},{"t":145.0,"v":46.2},{"t":145.9,"v":52.5},{"t":146.9,"v":51.9},{"t":148.1,"v":48.7},{"t":149.1,"v":47.9},{"t":150.1,"v":45.0},{"t":151.1,"v":45.0},{"t":151.9,"v":42.9},{"t":152.9,"v":49.4},{"t":153.8,"v":44.4},{"t":155.0,"v":40.0},{"t":156.1,"v":41.9},{"t":157.7,"v":42.5},{"t":159.2,"v":44.4},{"t":160.7,"v":52.5},{"t":161.9,"v":51.2},{"t":163.2,"v":50.0},{"t":164.0,"v":42.5},{"t":165.0,"v":47.9},{"t":166.1,"v":45.6},{"t":167.3,"v":44.6},{"t":168.4,"v":50.0},{"t":169.7,"v":55.4},{"t":170.7,"v":50.9},{"t":171.8,"v":46.2},{"t":173.0,"v":47.5},{"t":174.2,"v":44.1},{"t":174.9,"v":40.0},{"t":176.1,"v":47.5},{"t":177.2,"v":45.6},{"t":178.0,"v":40.0},{"t":179.0,"v":37.1},{"t":179.9,"v":41.9},{"t":181.1,"v":42.1},{"t":181.8,"v":51.6},{"t":182.6,"v":57.1},{"t":183.7,"v":59.4},{"t":184.9,"v":60.9},{"t":186.0,"v":63.4},{"t":186.8,"v":64.4},{"t":187.6,"v":62.9},{"t":188.7,"v":63.7},{"t":189.9,"v":63.1},{"t":191.0,"v":62.9},{"t":192.0,"v":52.9},{"t":193.0,"v":55.9},{"t":194.1,"v":53.8},{"t":195.1,"v":55.0},{"t":196.0,"v":55.4},{"t":196.8,"v":62.1},{"t":197.9,"v":64.8}]
},
"vconcat": [
{
"width": 927, "height": 121,
"resolve": {"axis": {"y": "independent"}},
"layer": [
{"data": {"name": "dmi"}, "transform": [{"filter": "datum.s === '-DI'"}], "mark": {"type": "line", "color": "#f03a3a", "strokeWidth": 1.5},
 "encoding": {"x": {"field": "t", "type": "quantitative", "scale": {"domain": [-4.21, 209.1], "nice": false, "zero": false}, "axis": null},
  "y": {"field": "v", "type": "quantitative", "scale": {"domain": [9.82, 37.44], "nice": false, "zero": false},
   "axis": {"orient": "right", "title": null, "values": [15, 20, 25, 30, 35], "tickSize": 5, "labelPadding": 30, "labelAlign": "right", "labelBaseline": "middle", "labelFontSize": 9.5, "labelOverlap": false}}}},
{"data": {"name": "dmi"}, "transform": [{"filter": "datum.s === '+DI'"}], "mark": {"type": "line", "color": "#1a1a8c", "strokeWidth": 1.5},
 "encoding": {"x": {"field": "t", "type": "quantitative", "scale": {"domain": [-4.21, 209.1], "nice": false, "zero": false}, "axis": null},
  "y": {"field": "v", "type": "quantitative", "scale": {"domain": [9.82, 37.44], "nice": false, "zero": false},
   "axis": {"orient": "right", "title": null, "values": [10,11,12,13,14,16,17,18,19,21,22,23,24,26,27,28,29,31,32,33,34,36,37], "tickSize": 3, "labels": false, "domain": false}}}},
{"data": {"name": "vlines"}, "transform": [{"filter": "datum.k === 'azul'"}], "mark": {"type": "rule", "color": "#2a3ff0", "strokeWidth": 1.2},
 "encoding": {"x": {"field": "t", "type": "quantitative", "scale": {"domain": [-4.21, 209.1], "nice": false, "zero": false}, "axis": null}}},
{"data": {"name": "vlines"}, "transform": [{"filter": "datum.k === 'rojo'"}], "mark": {"type": "rule", "color": "#f07a7a", "strokeWidth": 1.2},
 "encoding": {"x": {"field": "t", "type": "quantitative", "scale": {"domain": [-4.21, 209.1], "nice": false, "zero": false}, "axis": null}}},
{"data": {"values": [{}]}, "mark": {"type": "rule", "color": "#000", "strokeWidth": 1.5},
 "encoding": {"x": {"datum": 0, "type": "quantitative", "scale": {"domain": [-4.21, 209.1], "nice": false, "zero": false}, "axis": null}, "x2": {"datum": 217.4},
  "y": {"datum": 9.82, "type": "quantitative", "scale": {"domain": [9.82, 37.44], "nice": false, "zero": false}, "axis": null}}},
{"data": {"values": [{}]}, "mark": {"type": "text", "text": "Directnl Movement +DI (35.0000), Directnl Movement -DI (15.0000)", "fontSize": 8.5, "color": "#333", "align": "center", "baseline": "middle"},
 "encoding": {"x": {"datum": 104.4, "type": "quantitative", "scale": {"domain": [-4.21, 209.1], "nice": false, "zero": false}, "axis": null},
  "y": {"datum": 35.2, "type": "quantitative", "scale": {"domain": [9.82, 37.44], "nice": false, "zero": false}, "axis": null}}}
]
},
{
"width": 927, "height": 114,
"resolve": {"axis": {"y": "independent"}},
"layer": [
{"data": {"name": "levels"}, "transform": [{"filter": "datum.k === 'b'"}], "mark": {"type": "rule", "color": "#3a4cf0", "strokeWidth": 1.3},
 "encoding": {"x": {"datum": 0, "type": "quantitative", "scale": {"domain": [-4.21, 209.1], "nice": false, "zero": false}, "axis": null}, "x2": {"datum": 209.1},
  "y": {"field": "v", "type": "quantitative", "scale": {"domain": [33.25, 76.0], "nice": false, "zero": false},
   "axis": {"orient": "right", "title": null, "values": [35, 40, 45, 50, 55, 60, 65, 70], "tickSize": 5, "labelPadding": 30, "labelAlign": "right", "labelBaseline": "middle", "labelFontSize": 9.5, "labelOverlap": false}}}},
{"data": {"name": "rsi"}, "mark": {"type": "line", "color": "#f03c3c", "strokeWidth": 1.5},
 "encoding": {"x": {"field": "t", "type": "quantitative", "scale": {"domain": [-4.21, 209.1], "nice": false, "zero": false}, "axis": null},
  "y": {"field": "v", "type": "quantitative", "scale": {"domain": [33.25, 76.0], "nice": false, "zero": false},
   "axis": {"orient": "right", "title": null, "values": [34,36,37,38,39,41,42,43,44,46,47,48,49,51,52,53,54,56,57,58,59,61,62,63,64,66,67,68,69,71,72,73,74,75], "tickSize": 3, "labels": false, "domain": false}}}},
{"data": {"name": "vlines"}, "transform": [{"filter": "datum.k === 'azul'"}], "mark": {"type": "rule", "color": "#2a3ff0", "strokeWidth": 1.2},
 "encoding": {"x": {"field": "t", "type": "quantitative", "scale": {"domain": [-4.21, 209.1], "nice": false, "zero": false}, "axis": null}}},
{"data": {"name": "vlines"}, "transform": [{"filter": "datum.k === 'rojo'"}], "mark": {"type": "rule", "color": "#f07a7a", "strokeWidth": 1.2},
 "encoding": {"x": {"field": "t", "type": "quantitative", "scale": {"domain": [-4.21, 209.1], "nice": false, "zero": false}, "axis": null}}},
{"data": {"name": "levels"}, "transform": [{"filter": "datum.k === 'dot'"}], "mark": {"type": "rule", "color": "#f04a4a", "strokeWidth": 1, "strokeDash": [1.5, 3]},
 "encoding": {"x": {"datum": 0, "type": "quantitative", "scale": {"domain": [-4.21, 209.1], "nice": false, "zero": false}, "axis": null}, "x2": {"datum": 209.1},
  "y": {"field": "v", "type": "quantitative", "scale": {"domain": [33.25, 76.0], "nice": false, "zero": false}, "axis": null}}},
{"data": {"name": "levels"}, "transform": [{"filter": "datum.k === 'dash'"}], "mark": {"type": "rule", "color": "#f08080", "strokeWidth": 1.6, "strokeDash": [8, 5]},
 "encoding": {"x": {"datum": 0, "type": "quantitative", "scale": {"domain": [-4.21, 209.1], "nice": false, "zero": false}, "axis": null}, "x2": {"datum": 209.1},
  "y": {"field": "v", "type": "quantitative", "scale": {"domain": [33.25, 76.0], "nice": false, "zero": false}, "axis": null}}},
{"data": {"values": [{}]}, "mark": {"type": "rule", "color": "#555", "strokeWidth": 2},
 "encoding": {"x": {"datum": 0, "type": "quantitative", "scale": {"domain": [-4.21, 209.1], "nice": false, "zero": false}, "axis": null}, "x2": {"datum": 217.4},
  "y": {"datum": 33.25, "type": "quantitative", "scale": {"domain": [33.25, 76.0], "nice": false, "zero": false}, "axis": null}}},
{"data": {"values": [{}]}, "mark": {"type": "text", "text": "Relative Strength Index (64.8338)", "fontSize": 8.5, "color": "#333", "align": "center", "baseline": "middle"},
 "encoding": {"x": {"datum": 104.4, "type": "quantitative", "scale": {"domain": [-4.21, 209.1], "nice": false, "zero": false}, "axis": null},
  "y": {"datum": 72.9, "type": "quantitative", "scale": {"domain": [33.25, 76.0], "nice": false, "zero": false}, "axis": null}}}
]
},
{
"width": 927, "height": 247,
"resolve": {"axis": {"x": "independent", "y": "independent"}},
"layer": [
{"data": {"name": "lines"}, "mark": {"type": "line", "color": "#3a4cf5", "strokeWidth": 1},
 "encoding": {"x": {"field": "t", "type": "quantitative", "scale": {"domain": [-4.21, 209.1], "nice": false, "zero": false}, "axis": null},
  "y": {"field": "p", "type": "quantitative", "scale": {"domain": [557.1, 1518.9], "nice": false, "zero": false},
   "axis": {"orient": "right", "title": null, "format": "d", "values": [600,650,700,750,800,850,900,950,1000,1050,1100,1150,1200,1250,1300,1350,1400,1450], "tickSize": 5, "labelPadding": 30, "labelAlign": "right", "labelBaseline": "middle", "labelFontSize": 9.5, "labelOverlap": false}},
  "detail": {"field": "id", "type": "nominal"}}},
{"data": {"name": "vlines"}, "transform": [{"filter": "datum.k === 'azul'"}], "mark": {"type": "rule", "color": "#2a3ff0", "strokeWidth": 1.2},
 "encoding": {"x": {"field": "t", "type": "quantitative", "scale": {"domain": [-4.21, 209.1], "nice": false, "zero": false},
  "axis": {"orient": "bottom", "offset": 14, "title": null, "values": [-4.21, 16, 35, 57, 76, 95, 116, 138, 155, 177, 199], "labelExpr": "['November','December','2024','February','March','April','May','June','July','August','September'][indexof([-4.21, 16, 35, 57, 76, 95, 116, 138, 155, 177, 199], datum.value)]", "tickSize": 14, "labelAlign": "left", "labelBaseline": "top", "labelPadding": -12, "labelOffset": 2, "labelFontSize": 9, "labelOverlap": false, "labelFlush": false, "domainColor": "#333", "tickColor": "#333"}}}},
{"data": {"name": "vlines"}, "transform": [{"filter": "datum.k === 'rojo'"}], "mark": {"type": "rule", "color": "#f07a7a", "strokeWidth": 1.2},
 "encoding": {"x": {"field": "t", "type": "quantitative", "scale": {"domain": [-4.21, 209.1], "nice": false, "zero": false}, "axis": null}}},
{"data": {"name": "bars"}, "mark": {"type": "rule", "color": "#000", "strokeWidth": 1.3},
 "encoding": {"x": {"field": "t", "type": "quantitative", "scale": {"domain": [-4.21, 209.1], "nice": false, "zero": false},
  "axis": {"orient": "bottom", "title": null, "values": [-1, 3, 8, 12, 17, 21, 26, 31, 35, 39, 44, 49, 54, 59, 64, 67, 72, 77, 82, 87, 92, 99, 104, 109, 114, 118, 123, 128, 133, 138, 143, 148, 155, 160, 164, 169, 174, 179, 184, 189, 194, 199, 204, 209.1], "labelExpr": "['7','13','21','27','4','11','18','26','2','8','15','22','29','5','14','19','26','4','11','18','25','8','15','22','29','6','13','20','27','3','10','18','1','8','15','22','29','5','12','19','26','2','9',''][indexof([-1, 3, 8, 12, 17, 21, 26, 31, 35, 39, 44, 49, 54, 59, 64, 67, 72, 77, 82, 87, 92, 99, 104, 109, 114, 118, 123, 128, 133, 138, 143, 148, 155, 160, 164, 169, 174, 179, 184, 189, 194, 199, 204, 209.1], datum.value)]", "tickSize": 14, "labelAlign": "left", "labelBaseline": "top", "labelPadding": -12, "labelOffset": 2, "labelFontSize": 9, "labelOverlap": false, "labelFlush": false, "domainColor": "#333", "tickColor": "#333"}},
  "y": {"field": "l", "type": "quantitative", "scale": {"domain": [557.1, 1518.9], "nice": false, "zero": false},
   "axis": {"orient": "right", "title": null, "values": [575,625,675,725,775,825,875,925,975,1025,1075,1125,1175,1225,1275,1325,1375,1425,1475,1500], "tickSize": 3, "labels": false, "domain": false}},
  "y2": {"field": "h"}}},
{"data": {"name": "bars"}, "mark": {"type": "tick", "orient": "horizontal", "color": "#000", "size": 2.4, "thickness": 1.2, "xOffset": -1.3},
 "encoding": {"x": {"field": "t", "type": "quantitative", "scale": {"domain": [-4.21, 209.1], "nice": false, "zero": false}, "axis": null},
  "y": {"field": "o", "type": "quantitative", "scale": {"domain": [557.1, 1518.9], "nice": false, "zero": false}, "axis": null}}},
{"data": {"name": "bars"}, "mark": {"type": "tick", "orient": "horizontal", "color": "#000", "size": 2.4, "thickness": 1.2, "xOffset": 1.3},
 "encoding": {"x": {"field": "t", "type": "quantitative", "scale": {"domain": [-4.21, 209.1], "nice": false, "zero": false}, "axis": null},
  "y": {"field": "c", "type": "quantitative", "scale": {"domain": [557.1, 1518.9], "nice": false, "zero": false}, "axis": null}}},
{"data": {"name": "bars"}, "mark": {"type": "line", "color": "#ec3326", "strokeWidth": 2.4},
 "encoding": {"x": {"field": "t", "type": "quantitative", "scale": {"domain": [-4.21, 209.1], "nice": false, "zero": false}, "axis": null},
  "y": {"field": "ma", "type": "quantitative", "scale": {"domain": [557.1, 1518.9], "nice": false, "zero": false}, "axis": null}}},
{"data": {"name": "bars"}, "mark": {"type": "square", "color": "#ff3b30", "size": 8, "opacity": 1, "filled": true},
 "encoding": {"x": {"field": "t", "type": "quantitative", "scale": {"domain": [-4.21, 209.1], "nice": false, "zero": false}, "axis": null},
  "y": {"field": "sar", "type": "quantitative", "scale": {"domain": [557.1, 1518.9], "nice": false, "zero": false}, "axis": null}}},
{"data": {"name": "bars"}, "mark": {"type": "square", "color": "#12127a", "size": 7, "opacity": 1, "filled": true},
 "encoding": {"x": {"field": "t", "type": "quantitative", "scale": {"domain": [-4.21, 209.1], "nice": false, "zero": false}, "axis": null},
  "y": {"field": "pl", "type": "quantitative", "scale": {"domain": [557.1, 1518.9], "nice": false, "zero": false}, "axis": null}}},
{"data": {"values": [{}]}, "mark": {"type": "text", "text": "MERVAL_CCL (1,281.45, 1,347.44, 1,281.45, 1,325.77, +20.4017), Parabolic SAR (1,233.72), PLdot (1,255.76)", "fontSize": 8.5, "color": "#333", "align": "center", "baseline": "middle"},
 "encoding": {"x": {"datum": 104.4, "type": "quantitative", "scale": {"domain": [-4.21, 209.1], "nice": false, "zero": false}, "axis": null},
  "y": {"datum": 1485, "type": "quantitative", "scale": {"domain": [557.1, 1518.9], "nice": false, "zero": false}, "axis": null}}}
]
}
]
}
